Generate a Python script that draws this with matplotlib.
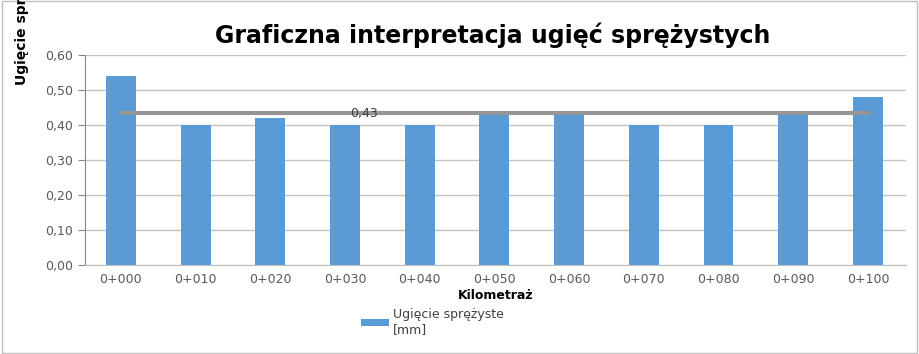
import numpy as np
import matplotlib.pyplot as plt

km_labels = ['0+000', '0+010', '0+020', '0+030', '0+040', '0+050',
             '0+060', '0+070', '0+080', '0+090', '0+100']
deflection = [0.54, 0.40, 0.42, 0.40, 0.40, 0.43, 0.43, 0.40, 0.40, 0.43, 0.48]
mean_value = 0.434
mean_label = '0,43'

plt.rcParams['font.family'] = ['DejaVu Sans']

fig = plt.figure(figsize=(9.19, 3.54), dpi=100)
ax = fig.add_axes([85 / 919, 89 / 354, 821 / 919, 210 / 354])

x = np.arange(len(km_labels))
ax.bar(x, deflection, width=0.4, color='#5b9bd5', zorder=2,
       label='Ugięcie sprężyste\n[mm]')
ax.plot([x[0], x[-1]], [mean_value, mean_value], color='#969696', lw=3, zorder=3)
ax.text(3.25, mean_value, mean_label, fontsize=9, color='#404040',
        ha='center', va='center', zorder=4)

ax.set_xlim(-0.48, 10.51)
ax.set_ylim(0, 0.6)
yt = np.arange(0, 0.61, 0.1)
ax.set_yticks(yt)
ax.set_yticklabels([f'{v:.2f}'.replace('.', ',') for v in yt])
ax.set_xticks(x)
ax.set_xticklabels(km_labels)
ax.tick_params(axis='y', labelsize=9, colors='#595959', length=5, color='#868686')
ax.tick_params(axis='x', labelsize=9, colors='#595959', length=0, pad=6)
ax.yaxis.grid(True, color='#c4c4c4', lw=1)
ax.set_axisbelow(True)
for s in ['top', 'right']:
    ax.spines[s].set_visible(False)
ax.spines['left'].set_color('#868686')
ax.spines['bottom'].set_color('#bfbfbf')

ax.set_xlabel('Kilometraż', fontsize=9, fontweight='bold', labelpad=2)
fig.text(493 / 919, 1 - 35 / 354, 'Graficzna interpretacja ugięć sprężystych',
         fontsize=17, fontweight='bold', ha='center', va='center')
fig.text(22 / 919, 1 - 85 / 354, 'Ugięcie sprężyste [mm]', fontsize=10,
         fontweight='bold', rotation=90, ha='center', va='bottom')

ax.legend(loc='upper left', bbox_to_anchor=(361 / 919, 1 - 308 / 354),
          bbox_transform=fig.transFigure, frameon=False, fontsize=9,
          labelcolor='#404040', handlelength=2.2, handleheight=0.5,
          handletextpad=0.35, borderpad=0, borderaxespad=0, labelspacing=0)

border = plt.Rectangle((0.002, 0.003), 0.996, 0.993, transform=fig.transFigure,
                       fill=False, edgecolor='#bfbfbf', lw=1)
fig.patches.append(border)

fig.savefig('out.png', dpi=100)
